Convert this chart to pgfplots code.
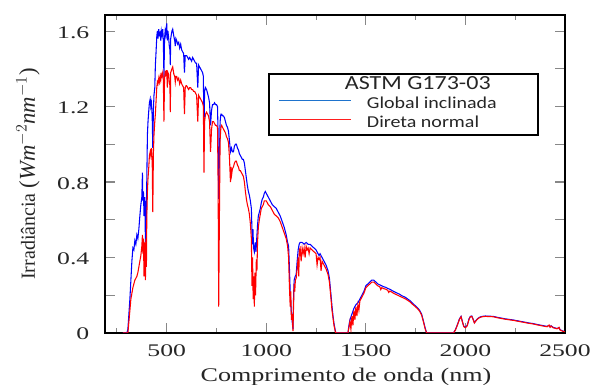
\documentclass[border=0pt]{standalone}
\usepackage{fontspec}
\setmainfont{Liberation Serif}
\newfontfamily\tickfont{Liberation Serif}[FakeStretch=1.45]
\newfontfamily\xlabfont{Liberation Serif}[FakeStretch=1.35]
\newfontfamily\legfont{Carlito}[FakeStretch=1.2]
\usepackage{pgfplots}
\usepackage{pgfplotstable}
\pgfplotsset{compat=1.18}
\definecolor{legblue}{RGB}{30,115,205}
\definecolor{legred}{RGB}{255,30,30}
\definecolor{tickgray}{RGB}{135,135,135}

\pgfplotstableread{
x y
280 0
300 0
305 0.02
310 0.10
315 0.18
320 0.28
325 0.38
330 0.45
335 0.44
340 0.49
345 0.47
350 0.52
355 0.50
360 0.55
365 0.62
370 0.68
375 0.72
378 0.85
380 0.70
383 0.75
386 0.62
390 0.72
393 0.48
395 0.70
397 0.50
400 0.82
403 1.05
406 1.12
410 1.18
413 1.22
417 1.24
420 1.20
423 1.22
427 1.15
430 0.98
433 1.18
436 1.26
440 1.30
443 1.42
446 1.48
450 1.57
453 1.60
456 1.56
460 1.61
463 1.58
467 1.59
470 1.55
473 1.60
476 1.58
480 1.61
483 1.55
486 1.35
489 1.56
492 1.60
495 1.58
498 1.62
500 1.64
503 1.55
506 1.60
510 1.56
513 1.52
516 1.50
518 1.42
520 1.56
523 1.58
526 1.60
530 1.61
533 1.59
536 1.57
540 1.55
543 1.52
546 1.56
550 1.55
555 1.53
560 1.54
565 1.51
570 1.53
575 1.50
580 1.49
585 1.48
589 1.38
593 1.47
597 1.47
600 1.47
605 1.46
610 1.45
615 1.46
620 1.45
625 1.44
630 1.46
635 1.45
640 1.44
645 1.43
650 1.43
656 1.30
660 1.42
665 1.41
670 1.40
675 1.39
680 1.38
684 1.36
687 1.05
690 1.28
695 1.30
700 1.29
705 1.27
710 1.25
715 1.22
720 1.10
725 1.18
730 1.21
735 1.21
740 1.22
745 1.21
750 1.21
755 1.20
758 1.05
761 0.71
764 0.90
768 1.12
772 1.16
776 1.16
780 1.15
785 1.15
790 1.14
795 1.12
800 1.10
805 1.09
810 1.07
815 1.02
820 0.96
825 0.98
830 0.96
835 0.96
840 0.99
845 1.00
850 1.00
855 0.98
860 0.97
865 0.95
870 0.94
875 0.93
880 0.92
885 0.92
890 0.90
895 0.86
900 0.82
905 0.78
910 0.75
915 0.73
920 0.70
925 0.66
930 0.47
933 0.55
936 0.45
940 0.43
944 0.48
948 0.43
952 0.50
956 0.57
960 0.62
965 0.64
970 0.66
975 0.69
980 0.71
985 0.72
990 0.74
995 0.75
1000 0.74
1010 0.72
1020 0.70
1030 0.68
1040 0.67
1050 0.66
1060 0.64
1070 0.62
1080 0.59
1090 0.56
1100 0.52
1107 0.48
1112 0.46
1116 0.35
1120 0.22
1125 0.12
1130 0.06
1134 0.02
1137 0.20
1140 0.28
1145 0.30
1150 0.31
1155 0.38
1160 0.44
1165 0.47
1170 0.48
1180 0.48
1190 0.47
1200 0.48
1210 0.47
1220 0.47
1230 0.46
1240 0.45
1250 0.44
1260 0.42
1265 0.41
1270 0.42
1280 0.40
1290 0.38
1300 0.36
1310 0.33
1317 0.29
1325 0.20
1330 0.14
1335 0.09
1340 0.05
1347 0.01
1350 0
1410 0
1415 0.04
1420 0.07
1430 0.10
1440 0.13
1450 0.15
1460 0.16
1470 0.18
1480 0.20
1490 0.22
1500 0.25
1510 0.26
1520 0.27
1530 0.28
1540 0.28
1550 0.27
1560 0.26
1570 0.255
1580 0.25
1590 0.245
1600 0.242
1610 0.236
1620 0.232
1630 0.226
1640 0.22
1650 0.215
1660 0.21
1670 0.205
1680 0.198
1690 0.193
1700 0.188
1710 0.18
1720 0.173
1730 0.162
1740 0.152
1750 0.143
1760 0.133
1770 0.12
1780 0.10
1790 0.06
1797 0.03
1805 0
1940 0
1950 0.018
1960 0.045
1970 0.075
1978 0.088
1985 0.06
1992 0.035
2000 0.03
2009 0.04
2018 0.075
2025 0.088
2032 0.09
2040 0.07
2045 0.055
2052 0.065
2060 0.075
2070 0.083
2080 0.087
2090 0.089
2100 0.09
2120 0.089
2140 0.088
2160 0.083
2180 0.079
2200 0.075
2220 0.072
2240 0.069
2260 0.065
2280 0.061
2300 0.057
2320 0.053
2340 0.05
2360 0.045
2380 0.041
2400 0.037
2410 0.035
2420 0.04
2425 0.033
2430 0.038
2440 0.03
2450 0.027
2460 0.024
2470 0.028
2475 0.018
2480 0.015
2490 0.01
2500 0.008
}\globaltable

\pgfplotstableread{
x y
280 0
305 0
310 0.06
315 0.12
320 0.18
325 0.21
330 0.24
335 0.26
340 0.28
345 0.29
350 0.30
355 0.32
360 0.35
365 0.38
370 0.41
375 0.46
378 0.52
380 0.42
383 0.50
386 0.30
389 0.48
393 0.28
396 0.50
398 0.35
400 0.62
403 0.75
406 0.82
410 0.88
413 0.94
417 0.96
420 0.94
423 0.98
427 0.92
430 0.64
433 0.95
436 1.05
440 1.12
443 1.16
446 1.22
450 1.30
453 1.33
456 1.32
460 1.35
463 1.33
467 1.36
470 1.34
473 1.37
476 1.36
480 1.38
483 1.34
486 1.12
489 1.35
492 1.38
495 1.37
498 1.39
500 1.39
503 1.30
506 1.38
510 1.37
513 1.33
516 1.31
518 1.17
520 1.38
523 1.39
526 1.40
530 1.41
533 1.39
536 1.37
540 1.36
543 1.33
546 1.36
550 1.36
555 1.34
560 1.35
565 1.32
570 1.34
575 1.32
580 1.31
585 1.30
589 1.16
593 1.30
597 1.31
600 1.31
605 1.30
610 1.29
615 1.30
620 1.30
625 1.29
630 1.29
635 1.28
640 1.28
645 1.27
650 1.26
656 1.12
660 1.26
665 1.25
670 1.24
675 1.23
680 1.22
684 1.20
687 0.85
690 1.12
695 1.16
700 1.17
705 1.16
710 1.15
715 1.12
720 0.96
725 1.08
730 1.12
735 1.12
740 1.11
745 1.10
750 1.10
755 1.09
758 0.80
761 0.14
764 0.55
768 1.02
772 1.09
776 1.10
780 1.09
785 1.08
790 1.07
795 1.06
800 1.04
805 1.03
810 1.01
815 0.93
820 0.80
823 0.88
826 0.84
830 0.87
835 0.88
840 0.90
845 0.91
850 0.91
855 0.89
860 0.88
865 0.86
870 0.86
875 0.85
880 0.84
885 0.83
890 0.80
895 0.75
900 0.71
905 0.68
910 0.66
915 0.63
920 0.58
925 0.50
928 0.25
931 0.40
934 0.18
937 0.30
940 0.14
943 0.32
946 0.20
950 0.39
953 0.33
956 0.48
960 0.56
965 0.60
970 0.63
975 0.66
980 0.67
985 0.68
990 0.70
995 0.70
1000 0.70
1010 0.68
1020 0.67
1030 0.65
1040 0.63
1050 0.62
1060 0.61
1070 0.59
1080 0.56
1090 0.53
1100 0.50
1107 0.46
1112 0.40
1116 0.25
1120 0.14
1123 0.22
1126 0.07
1130 0.10
1134 0.01
1137 0.15
1140 0.26
1143 0.22
1146 0.28
1150 0.29
1155 0.34
1160 0.40
1163 0.30
1166 0.44
1170 0.45
1175 0.38
1180 0.45
1185 0.42
1190 0.45
1195 0.40
1200 0.46
1205 0.44
1210 0.45
1215 0.42
1220 0.45
1230 0.44
1240 0.43
1250 0.42
1255 0.36
1260 0.40
1265 0.39
1270 0.40
1275 0.33
1280 0.38
1290 0.36
1300 0.34
1310 0.31
1317 0.27
1325 0.18
1330 0.12
1335 0.08
1340 0.04
1347 0.005
1350 0
1410 0
1415 0.03
1420 0.06
1425 0.02
1430 0.09
1435 0.04
1440 0.12
1445 0.07
1450 0.14
1455 0.09
1460 0.15
1465 0.12
1470 0.17
1480 0.19
1490 0.21
1500 0.24
1510 0.25
1520 0.26
1530 0.27
1540 0.27
1550 0.26
1560 0.25
1570 0.245
1575 0.23
1580 0.24
1590 0.235
1600 0.232
1610 0.226
1615 0.215
1620 0.222
1630 0.217
1640 0.21
1650 0.205
1660 0.20
1670 0.195
1680 0.19
1690 0.185
1700 0.18
1710 0.173
1720 0.166
1730 0.156
1740 0.147
1750 0.138
1760 0.128
1770 0.115
1780 0.095
1790 0.055
1797 0.025
1805 0
1940 0
1950 0.016
1960 0.043
1970 0.072
1978 0.086
1985 0.058
1992 0.033
2000 0.028
2009 0.038
2018 0.072
2025 0.086
2032 0.088
2040 0.068
2045 0.053
2052 0.063
2060 0.073
2070 0.081
2080 0.085
2090 0.087
2100 0.088
2120 0.087
2140 0.086
2160 0.081
2180 0.077
2200 0.073
2220 0.070
2240 0.067
2260 0.063
2280 0.059
2300 0.055
2320 0.051
2340 0.048
2360 0.043
2380 0.039
2400 0.035
2410 0.033
2420 0.042
2425 0.030
2430 0.037
2440 0.028
2450 0.025
2460 0.022
2470 0.030
2475 0.016
2480 0.013
2490 0.009
2500 0.007
}\directtable

\begin{document}
\begin{tikzpicture}
\begin{axis}[
  scale only axis, width=345pt, height=238.5pt,
  xmin=190, xmax=2500, ymin=0, ymax=1.685,
  axis line style={line width=1.6pt, black},
  xtick={500,1000,1500,2000,2500},
  xticklabels={500,1000,1500,2000,2500},
  minor xtick={250,750,1250,1750,2250},
  ytick={0,0.2,0.4,0.6,0.8,1.0,1.2,1.4,1.6},
  yticklabels={0,,0.4,,0.8,,1.2,,1.6},
  /pgf/number format/assume math mode=true,
  tick style={tickgray, line width=0.8pt},
  major tick length=7.5pt, minor tick length=4pt,
  tick align=inside,
  xticklabel style={font=\tickfont\fontsize{13.3}{16}\selectfont, text=black!85, anchor=base, yshift=-18pt},
  yticklabel style={font=\tickfont\fontsize{13.3}{16}\selectfont, text=black!85, anchor=base east, xshift=-8.25pt, yshift=-5.25pt},
  xlabel={Comprimento de onda (nm)},
  xlabel style={font=\xlabfont\fontsize{14.5}{16}\selectfont, text=black!85, at={([xshift=8.25pt,yshift=-36.75pt]axis description cs:0.5,0)}, anchor=base},
  ylabel={\fontsize{15}{16}\selectfont Irradiância \fontsize{17}{18}\selectfont(\textit{Wm}$^{-2}$\textit{nm}$^{-1}$)},
  ylabel style={text=black!85, at={([xshift=-52.5pt]axis description cs:0,0.5)}, anchor=base},
  legend style={at={(0.3543,0.8176)}, anchor=north west, draw=black, line width=1.5pt,
    inner xsep=7pt, inner ysep=2pt, font=\legfont\fontsize{12.5}{14}\selectfont, text=black!85,
    row sep=0pt, nodes={inner sep=1pt, text height=9pt, text depth=3pt},
    /tikz/every odd column/.append style={column sep=10.5pt}},
  legend cell align=left,
  legend image code/.code={\draw[#1] (0pt,3pt) -- (54pt,3pt);},
]
\addplot[blue, line width=0.8pt, forget plot] table[x=x,y=y] {\globaltable};
\addplot[red, line width=0.8pt, forget plot] table[x=x,y=y] {\directtable};
\addlegendimage{empty legend}
\addlegendentry{\fontsize{15}{16}\selectfont\hspace*{-16.5pt}ASTM G173-03}
\addlegendimage{legblue, line width=1pt}
\addlegendentry{\makebox[120pt][l]{Global inclinada}}
\addlegendimage{legred, line width=1pt}
\addlegendentry{Direta normal}
\end{axis}
\pgfresetboundingbox
\path (current axis.south west) ++(-78.75pt,-39pt) coordinate (bl);
\path (current axis.north east) ++(18.75pt,11.25pt) coordinate (tr);
\path (bl) rectangle (tr);
\end{tikzpicture}
\end{document}
